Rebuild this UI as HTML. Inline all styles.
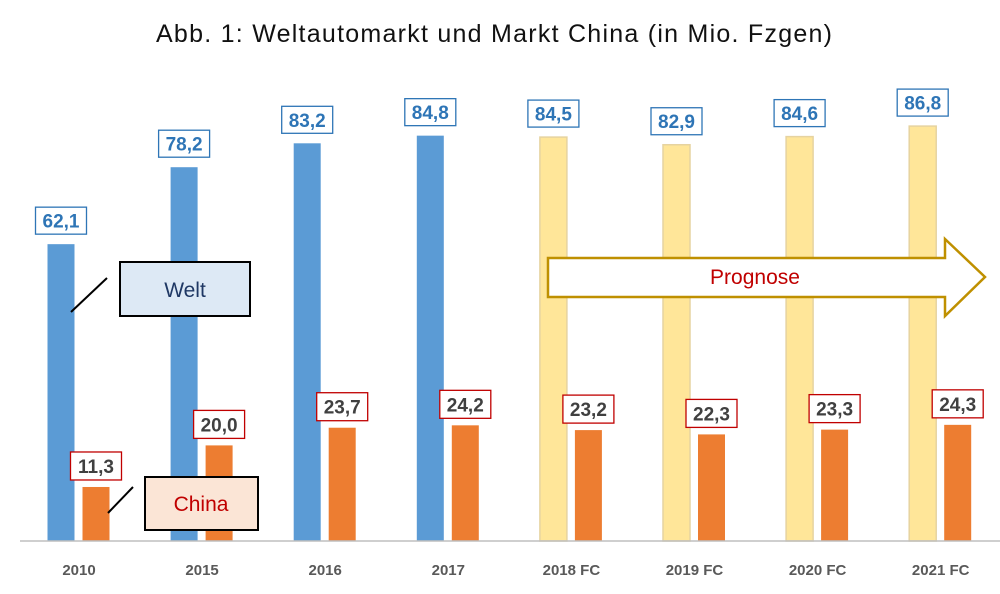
<!DOCTYPE html>
<html><head><meta charset="utf-8"><style>
html,body{margin:0;padding:0;background:#fff;}
svg{display:block;font-family:"Liberation Sans","DejaVu Sans",sans-serif;}
</style></head><body>
<svg id="chart" width="1000" height="594" viewBox="0 0 1000 594" xmlns="http://www.w3.org/2000/svg">
<text x="494" y="42" text-anchor="middle" font-size="25" textLength="676" lengthAdjust="spacing" fill="#111">Abb. 1: Weltautomarkt und Markt China (in Mio. Fzgen)</text>
<g id="bars"></g>
<line x1="20" y1="541" x2="1000" y2="541" stroke="#bfbfbf" stroke-width="1.5"/>
<g>
<polygon points="548,258 945,258 945,239 985,277 945,316 945,297 548,297" fill="#fff" stroke="#bf9000" stroke-width="2.5"/>
<text x="755" y="284" text-anchor="middle" font-size="21" fill="#c00000">Prognose</text>
</g>
<g>
<line x1="71" y1="312" x2="107" y2="278" stroke="#000" stroke-width="2"/>
<rect x="120" y="262" width="130" height="54" fill="#dde9f5" stroke="#000" stroke-width="2"/>
<text x="185" y="297" text-anchor="middle" font-size="21" fill="#1f3864">Welt</text>
</g>
<g>
<line x1="108" y1="513" x2="133" y2="487" stroke="#000" stroke-width="2"/>
<rect x="145" y="477" width="113" height="53" fill="#fbe5d6" stroke="#000" stroke-width="2"/>
<text x="201" y="511" text-anchor="middle" font-size="21" fill="#c00000">China</text>
</g>
</svg>
<script>
const categories=["2010","2015","2016","2017","2018 FC","2019 FC","2020 FC","2021 FC"];
const weltValues=[62.1,78.2,83.2,84.8,84.5,82.9,84.6,86.8];
const chinaValues=[11.3,20.0,23.7,24.2,23.2,22.3,23.3,24.3];
const forecastFlags=[false,false,false,false,true,true,true,true];
const NS="http://www.w3.org/2000/svg";
const g=document.getElementById('bars');
const y=v=>541-v*4.78;
const xc=i=>61+i*123.1;
function mk(t,a){const e=document.createElementNS(NS,t);for(const k in a)e.setAttribute(k,a[k]);return e;}
const fmt=v=>v.toFixed(1).replace('.',',');
categories.forEach((c,i)=>{
  const x=xc(i);
  const fc=forecastFlags[i];
  const wb=mk('rect',{x:x-13.5,y:y(weltValues[i]),width:27,height:541-y(weltValues[i]),fill:fc?'#ffe699':'#5b9bd5',stroke:fc?'#e6d3a0':'none','stroke-width':1.5});
  
  
  g.appendChild(wb);
  const cb=mk('rect',{x:x+35-13.5,y:y(chinaValues[i]),width:27,height:541-y(chinaValues[i]),fill:'#ed7d31'});
  
  
  g.appendChild(cb);
  const wy=y(weltValues[i])-37;
  const wl=mk('g',{});
  
  
  wl.appendChild(mk('rect',{x:x-25.5,y:wy,width:51,height:27,fill:'#fff',stroke:'#2e75b6','stroke-width':1.3}));
  const wt=mk('text',{x:x,y:wy+20.5,'text-anchor':'middle','font-size':19,'font-weight':'bold',fill:'#2e75b6'});
  wt.textContent=fmt(weltValues[i]);wl.appendChild(wt);g.appendChild(wl);
  const cy=y(chinaValues[i])-35;
  const cl=mk('g',{});
  
  
  cl.appendChild(mk('rect',{x:x+35-25.5,y:cy,width:51,height:28,fill:'#fff',stroke:'#c00000','stroke-width':1.3}));
  const ct=mk('text',{x:x+35,y:cy+21,'text-anchor':'middle','font-size':19,'font-weight':'bold',fill:'#404040'});
  ct.textContent=fmt(chinaValues[i]);cl.appendChild(ct);g.appendChild(cl);
  const lt=mk('text',{x:x+18,y:575,'text-anchor':'middle','font-size':15,'font-weight':'bold',fill:'#595959'});
  
  
  lt.textContent=c;g.appendChild(lt);
});
</script>
</body></html>
